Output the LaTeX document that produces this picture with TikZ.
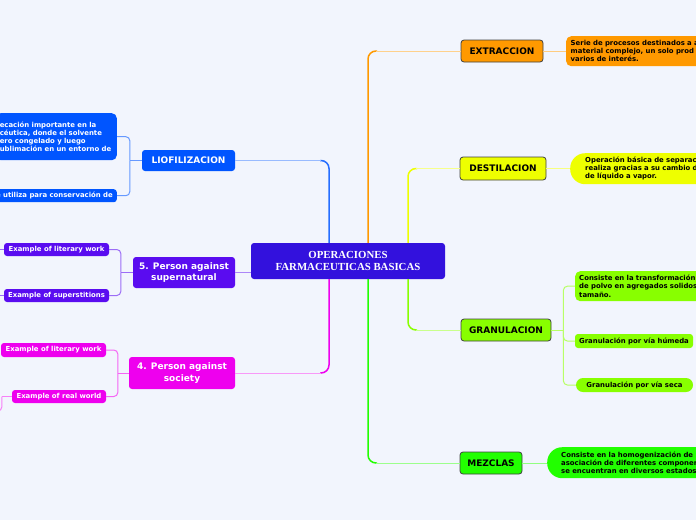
\documentclass[tikz,border=0pt]{standalone}
\usepackage{fontspec}
\setmainfont{Liberation Serif}
\setsansfont{DejaVu Sans}
\usetikzlibrary{calc}

\definecolor{bgc}{HTML}{F2F5FD}
\definecolor{centralc}{HTML}{3311DD}
\definecolor{orangec}{HTML}{FF9900}
\definecolor{yellowc}{HTML}{EEFF00}
\definecolor{limec}{HTML}{88FF00}
\definecolor{greenc}{HTML}{22FF00}
\definecolor{bluec}{HTML}{0055FF}
\definecolor{purplec}{HTML}{5A0CF0}
\definecolor{magentac}{HTML}{EE00EE}

\begin{document}
\begin{tikzpicture}[
    x=1pt, y=-1pt,
    central/.style={rectangle, fill=centralc, rounded corners=3pt, minimum width=194pt, minimum height=36pt, inner sep=0pt, align=center, text=white, font=\rmfamily\bfseries\fontsize{10.8}{11.5}\selectfont},
    topic/.style={rectangle, draw=black!75, line width=0.8pt, rounded corners=3pt, minimum height=22pt, inner sep=0pt, font=\sffamily\bfseries\fontsize{9}{10}\selectfont},
    ltopic/.style={rectangle, rounded corners=3pt, inner sep=0pt, text=white, align=center, font=\sffamily\bfseries\fontsize{9}{11.5}\selectfont},
    leaf/.style={rectangle, rounded corners=3pt, inner sep=0pt, minimum height=13pt, font=\sffamily\bfseries\fontsize{6.9}{8.2}\selectfont},
    note/.style={leaf, rounded corners=5pt, align=left, inner ysep=0pt},
    branch/.style={line width=1.5pt, rounded corners=8pt},
    twig/.style={line width=1pt, rounded corners=4pt}
]
    \fill[bgc] (0,0) rectangle (696,520);
    \useasboundingbox (0,0) rectangle (696,520);
    \clip (0,0) rectangle (696,520);

    \node[central] (central) at (348,261) {OPERACIONES\\FARMACEUTICAS BASICAS};

    % right side
    \node[topic, fill=orangec, minimum width=82pt] (extr) at (502,51) {EXTRACCION};
    \node[note, fill=orangec, anchor=north west, minimum height=30pt, text width=160pt, inner xsep=4.5pt] (extrnote) at (566,36) {Serie de procesos destinados a a\\material complejo, un solo prod\\varios de interés.};
    \node[topic, fill=yellowc, minimum width=86pt, minimum height=23pt] (dest) at (503,168.5) {DESTILACION};
    \node[note, fill=yellowc, anchor=north west, rounded corners=15pt, minimum height=31pt, text width=160pt, inner xsep=15pt] (destnote) at (570,153) {Operación básica de separac\\realiza gracias a su cambio d\\de líquido a vapor.};
    \node[topic, fill=limec, minimum width=90pt] (gran) at (506,330) {GRANULACION};
    \node[note, fill=limec, anchor=north west, minimum height=30pt, text width=160pt, inner xsep=4pt] (grannote) at (575,271) {Consiste en la transformación\\de polvo en agregados solidos\\tamaño.};
    \node[leaf, fill=limec, minimum width=118pt, minimum height=14pt] (granhum) at (634,341) {Granulación por vía húmeda};
    \node[leaf, fill=limec, rounded corners=7pt, minimum width=117pt, minimum height=14pt] (granseca) at (634.5,385) {Granulación por vía seca};
    \node[topic, fill=greenc, minimum width=62pt] (mez) at (491,463) {MEZCLAS};
    \node[note, fill=greenc, anchor=north west, rounded corners=15pt, minimum height=31pt, text width=170pt, inner xsep=14pt] (meznote) at (547,447) {Consiste en la homogenización de\\asociación de diferentes componen\\se encuentran en diversos estados};

    % left side
    \node[ltopic, fill=bluec, minimum width=93pt, minimum height=21pt] (lio) at (188.5,160.5) {LIOFILIZACION};
    \node[note, fill=bluec, text=white, anchor=north east, minimum height=47pt, text width=113pt, inner xsep=4pt] (lionote) at (117,113) {ecación importante en la\\céutica, donde el solvente\\ero congelado y luego\\ublimación en un entorno de};
    \node[leaf, fill=bluec, text=white, anchor=north east, inner xsep=4pt] (lionote2) at (117,189) {e utiliza para conservación de};

    \node[ltopic, fill=purplec, minimum width=102pt, minimum height=31pt] (superna) at (184,272.5) {5. Person against\\supernatural};
    \node[leaf, fill=purplec, text=white, minimum width=105pt] (superlit) at (56.5,249.5) {Example of literary work};
    \node[leaf, fill=purplec, text=white, minimum width=105pt] (superstit) at (56.5,295.5) {Example of superstitions};
    \coordinate (superlitout) at (-10,249.5);
    \coordinate (superstitout) at (-10,295.5);

    \node[ltopic, fill=magentac, minimum width=106pt, minimum height=32pt] (society) at (182,373) {4. Person against\\society};
    \node[leaf, fill=magentac, text=white, minimum width=105pt, minimum height=14pt] (societylit) at (53.5,350) {Example of literary work};
    \node[leaf, fill=magentac, text=white, minimum width=94pt] (societyreal) at (59,396.5) {Example of real world};
    \coordinate (societyrealout) at (-12,411);

    % main branches
    \draw[branch, orangec] ([xshift=20pt]central.north) |- ($(central.north |- extr.west)+(29,0)$);
    \draw[twig, orangec!45] ($(central.north |- extr.west)+(28,0)$) -- (extr.west);
    \draw[branch, yellowc] ([xshift=60pt]central.north) |- ($(central.north |- dest.west)+(69,0)$);
    \draw[twig, yellowc!45] ($(central.north |- dest.west)+(68,0)$) -- (dest.west);
    \draw[branch, limec] ([xshift=60pt]central.south) |- ($(central.south |- gran.west)+(69,0)$);
    \draw[twig, limec!45] ($(central.south |- gran.west)+(68,0)$) -- (gran.west);
    \draw[branch, greenc] ([xshift=20pt]central.south) |- ($(central.south |- mez.west)+(29,0)$);
    \draw[twig, greenc!45] ($(central.south |- mez.west)+(28,0)$) -- (mez.west);
    \draw[branch, bluec!85] ([xshift=-19pt]central.north) |- ($(central.north |- lio.east)+(-28,0)$);
    \draw[twig, bluec!40] ($(central.north |- lio.east)+(-27,0)$) -- (lio.east);
    \draw[branch, magentac] ([xshift=-19pt]central.south) |- ($(central.south |- society.east)+(-28,0)$);
    \draw[twig, magentac!40] ($(central.south |- society.east)+(-27,0)$) -- (society.east);
    \draw[twig, purplec!50] (superna.east) -- (superna.east -| central.west);

    % sub branches
    \draw[twig, orangec!50] (extr.east) -- (extr.east -| extrnote.west);
    \draw[twig, yellowc!50] (dest.east) -- (dest.east -| destnote.west);
    \draw[twig, greenc!50] (mez.east) -- (mez.east -| meznote.west);
    \draw[twig, limec!60] (gran.east) -- ++(12,0) coordinate (granfork);
    \draw[twig, limec!60] (granfork) |- (grannote.west);
    \draw[twig, limec!60] (granfork) |- (granhum.west);
    \draw[twig, limec!60] (granfork) |- (granseca.west);

    \draw[twig, bluec!60] (lio.west) -- ++(-12,0) coordinate (liofork);
    \draw[twig, bluec!60] (liofork) |- (lionote.east);
    \draw[twig, bluec!60] (liofork) |- (lionote2.east);
    \draw[twig, purplec!60] (superna.west) -- ++(-12,0) coordinate (supernafork);
    \draw[twig, purplec!60] (supernafork) |- (superlit.east);
    \draw[twig, purplec!60] (supernafork) |- (superstit.east);
    \draw[twig, purplec!60] (superlit.west) -- (superlitout);
    \draw[twig, purplec!60] (superstit.west) -- (superstitout);
    \draw[twig, magentac!60] (society.west) -- ++(-11,0) coordinate (societyfork);
    \draw[twig, magentac!60] (societyfork) |- (societylit.east);
    \draw[twig, magentac!60] (societyfork) |- (societyreal.east);
    \draw[twig, magentac!50] (societyreal.west) -- ++(-10,0) coordinate (realfork);
    \draw[twig, magentac!50] (realfork) |- (societyrealout);
\end{tikzpicture}
\end{document}
